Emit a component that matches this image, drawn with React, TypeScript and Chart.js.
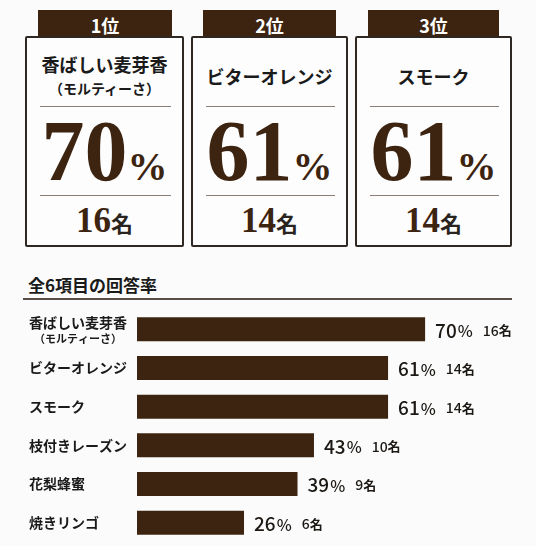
import React, { useEffect, useRef } from "react";
import { Chart, registerables } from "chart.js";

Chart.register(...registerables);

const categories = ["香ばしい麦芽香", "ビターオレンジ", "スモーク", "枝付きレーズン", "花梨蜂蜜", "焼きリンゴ"];
const subLabels = ["（モルティーさ）", "", "", "", "", ""];
const rates = [70, 61, 61, 43, 39, 26];
const counts = [16, 14, 14, 10, 9, 6];
const rankLabels = ["1位", "2位", "3位"];
const sectionTitle = "全6項目の回答率";

const BROWN = "#3c2411";
const JP = '"Noto Sans CJK JP", "Noto Sans", sans-serif';
const SERIF = '"Liberation Serif", "DejaVu Serif", serif';

const cardPos = [
  { left: 25, width: 159, tabLeft: 38, tabWidth: 134 },
  { left: 191, width: 157, tabLeft: 203, tabWidth: 133 },
  { left: 355, width: 157, tabLeft: 368, tabWidth: 131 },
];

function Card({ i }: { i: number }) {
  const p = cardPos[i];
  const sub = subLabels[i];
  const abs = (s: React.CSSProperties): React.CSSProperties => ({ position: "absolute", ...s });
  return (
    <>
      <div
        style={abs({
          left: p.tabLeft,
          top: 10,
          width: p.tabWidth,
          height: 28,
          background: BROWN,
          color: "#fff",
          fontFamily: JP,
          fontWeight: 700,
          fontSize: 18,
          lineHeight: "30px",
          textAlign: "center",
        })}
      >
        {rankLabels[i]}
      </div>
      <div
        style={abs({
          left: p.left,
          top: 36,
          width: p.width - 4,
          height: 211 - 4,
          border: "2px solid #2f2722",
          borderRadius: 2,
          background: "#fdfdfd",
        })}
      />
      {sub ? (
        <>
          <div style={abs({ left: p.left, top: 52, width: p.width, textAlign: "center", fontFamily: JP, fontWeight: 700, fontSize: 18, lineHeight: "24px", color: "#1a1a1a" })}>
            {categories[i]}
          </div>
          <div style={abs({ left: p.left, top: 78, width: p.width, textAlign: "center", fontFamily: JP, fontWeight: 700, fontSize: 14, lineHeight: "20px", color: "#1a1a1a" })}>
            {sub}
          </div>
        </>
      ) : (
        <div style={abs({ left: p.left, top: 64, width: p.width, textAlign: "center", fontFamily: JP, fontWeight: 700, fontSize: 18, lineHeight: "24px", color: "#1a1a1a" })}>
          {categories[i]}
        </div>
      )}
      <div style={abs({ left: p.left + 15, top: 106, width: p.width - 28, height: 1, background: "#8a7f78" })} />
      <div
        style={abs({
          left: p.left,
          top: 108,
          width: p.width,
          display: "flex",
          justifyContent: "center",
          alignItems: "baseline",
          lineHeight: 1,
          color: BROWN,
          fontFamily: SERIF,
          fontWeight: 700,
        })}
      >
        <span style={{ fontSize: 86 }}>{rates[i]}</span>
        <span style={{ fontSize: 40 }}>%</span>
      </div>
      <div style={abs({ left: p.left + 15, top: 195, width: p.width - 28, height: 1, background: "#8a7f78" })} />
      <div
        style={abs({
          left: p.left,
          top: 203,
          width: p.width,
          display: "flex",
          justifyContent: "center",
          alignItems: "baseline",
          lineHeight: 1,
        })}
      >
        <span style={{ fontFamily: SERIF, fontWeight: 700, fontSize: 35, color: BROWN }}>{counts[i]}</span>
        <span style={{ fontFamily: JP, fontWeight: 700, fontSize: 22, color: "#2a2420" }}>名</span>
      </div>
    </>
  );
}

export default function App() {
  const ref = useRef<HTMLCanvasElement | null>(null);

  useEffect(() => {
    if (!ref.current) return;
    const labelPlugin = {
      id: "labels",
      afterDatasetsDraw(chart: any) {
        const ctx = chart.ctx;
        const yScale = chart.scales.y;
        const meta = chart.getDatasetMeta(0);
        ctx.save();
        ctx.textBaseline = "middle";
        ctx.textAlign = "left";
        categories.forEach((c, i) => {
          const y = yScale.getPixelForValue(i);
          ctx.fillStyle = "#1a1a1a";
          ctx.font = `700 14px ${JP}`;
          if (subLabels[i]) {
            ctx.fillText(c, 29, y - 7);
            const w = ctx.measureText(c).width;
            ctx.font = `700 11px ${JP}`;
            ctx.textAlign = "center";
            ctx.fillText(subLabels[i], 29 + w / 2, y + 9);
            ctx.textAlign = "left";
          } else {
            ctx.fillText(c, 29, y);
          }
          const bar = meta.data[i];
          let x = bar.x + 10;
          ctx.fillStyle = "#1c1814";
          ctx.font = `500 19px ${JP}`;
          ctx.fillText(String(rates[i]), x, y + 1);
          x += ctx.measureText(String(rates[i])).width + 1;
          ctx.font = `500 16px ${JP}`;
          ctx.fillText("%", x, y + 2);
          x += ctx.measureText("%").width + 10;
          ctx.font = `500 14px ${JP}`;
          ctx.fillText(String(counts[i]), x, y + 1);
          x += ctx.measureText(String(counts[i])).width;
          ctx.font = `700 13px ${JP}`;
          ctx.fillText("名", x, y + 1);
        });
        ctx.restore();
      },
    };
    const chart = new Chart(ref.current, {
      type: "bar",
      data: {
        labels: categories,
        datasets: [
          {
            data: rates,
            backgroundColor: BROWN,
            borderWidth: 0,
            barPercentage: 0.62,
            categoryPercentage: 1,
          },
        ],
      },
      options: {
        indexAxis: "y",
        responsive: false,
        animation: false,
        layout: { padding: { left: 137, right: 8, top: 10, bottom: 4 } },
        scales: {
          x: { display: false, min: 0, max: 95 },
          y: { display: false },
        },
        plugins: { legend: { display: false }, tooltip: { enabled: false } },
      },
      plugins: [labelPlugin],
    });
    return () => chart.destroy();
  }, []);

  return (
    <div style={{ position: "fixed", left: 0, top: 0, width: 536, height: 546, background: "#fbfbfb", overflow: "hidden" }}>
      {[0, 1, 2].map((i) => (
        <Card key={i} i={i} />
      ))}
      <div style={{ position: "absolute", left: 28, top: 272, fontFamily: JP, fontWeight: 700, fontSize: 17, lineHeight: "26px", color: "#1a1a1a" }}>
        {sectionTitle}
      </div>
      <div style={{ position: "absolute", left: 23, top: 298, width: 489, height: 2, background: "#5a4e48" }} />
      <canvas ref={ref} width={536} height={246} style={{ position: "absolute", left: 0, top: 300 }} />
    </div>
  );
}
